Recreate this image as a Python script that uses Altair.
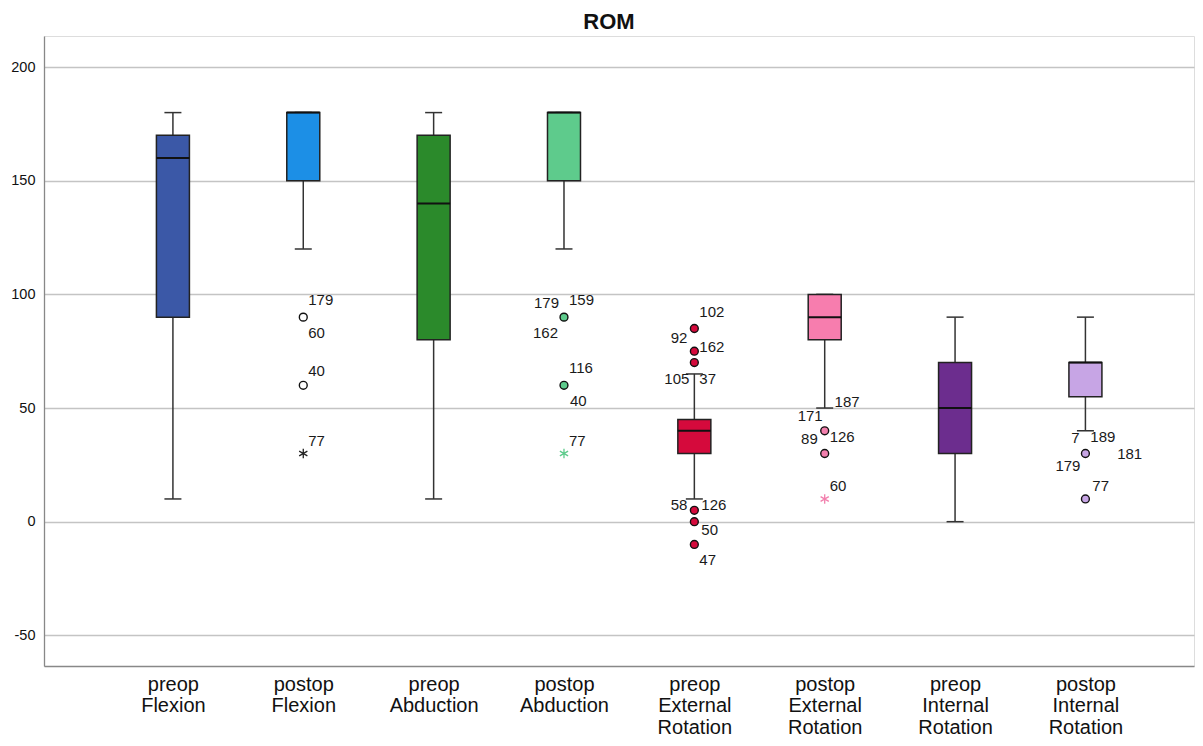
import json
import altair as alt
import pandas as pd

# ---------------- data ----------------
categories = [
    "preop\nFlexion", "postop\nFlexion", "preop\nAbduction", "postop\nAbduction",
    "preop\nExternal\nRotation", "postop\nExternal\nRotation",
    "preop\nInternal\nRotation", "postop\nInternal\nRotation",
]
whisker_low = [10, 120, 10, 120, 10, 50, 0, 40]
q1 = [90, 150, 80, 150, 30, 80, 30, 55]
median = [160, 180, 140, 180, 40, 90, 50, 70]
q3 = [170, 180, 170, 180, 45, 100, 70, 70]
whisker_high = [180, 180, 180, 180, 65, 100, 90, 90]

outlier_cat = [1, 1, 3, 3, 4, 4, 4, 4, 4, 4, 5, 5, 7, 7]
outlier_val = [90, 60, 90, 60, 85, 75, 70, 5, 0, -10, 40, 30, 30, 10]

extreme_cat = [1, 3, 5]
extreme_val = [30, 30, 10]

label_cat = [1, 1, 1, 1,
             3, 3, 3, 3, 3, 3,
             4, 4, 4, 4, 4, 4, 4, 4, 4,
             5, 5, 5, 5, 5,
             7, 7, 7, 7, 7]
label_val = [90, 90, 60, 30,
             90, 90, 90, 60, 60, 30,
             85, 75, 70, 70, 70, 5, 5, 0, -10,
             40, 40, 40, 40, 10,
             30, 30, 30, 30, 10]
label_text = ["179", "60", "40", "77",
              "179", "159", "162", "116", "40", "77",
              "102", "92", "162", "105", "37", "58", "126", "50", "47",
              "187", "171", "89", "126", "60",
              "7", "189", "181", "179", "77"]

# ---------------- styles ----------------
box_colors = ["#3B58A7", "#1C8FE6", "#2B8A2B", "#5ECB8C",
              "#D50A3C", "#F77DAE", "#6C2D8E", "#C7A5E5"]
outlier_fill = ["#3B58A7", "#FFFFFF", "#2B8A2B", "#5ECB8C",
                "#D50A3C", "#F27FAD", "#6C2D8E", "#C7A5E5"]
extreme_color = ["#222222", "#222222", "#2B8A2B", "#5ECB8C",
                 "#D50A3C", "#F27FAD", "#6C2D8E", "#C7A5E5"]
# label offsets in pixels relative to the point (dx, dy, align)
label_dx = [5, 5, 5, 5,
            -5, 5, -6, 5, 6, 5,
            5, -7, 5, -5, 5, -7, 7, 7, 5,
            10, -2, -7, 5, 5,
            -6, 5, 32, -5, 7]
label_dy = [-17, 16, -14, -13,
            -14, -17, 16, -17, 16, -13,
            -17, -13, -16, 16, 16, -5, -5, 8, 16,
            -29, -15, 8, 6, -13,
            -16, -17, 0, 12, -13]
label_align = ["left", "left", "left", "left",
               "right", "left", "right", "left", "left", "left",
               "left", "right", "left", "right", "left", "right", "left", "left", "left",
               "left", "right", "right", "left", "left",
               "right", "left", "left", "right", "left"]

W, H = 1150, 630
X_MIN, X_MAX = -0.9506, 7.7946
Y_MIN, Y_MAX = -63.5, 213.7
PX_X = W / (X_MAX - X_MIN)
PX_Y = H / (Y_MAX - Y_MIN)
FONT = "Liberation Sans"

box_df = pd.DataFrame({
    "idx": list(range(len(categories))),
    "wlo": whisker_low, "q1": q1, "med": median, "q3": q3, "whi": whisker_high,
    "fill": box_colors,
})
out_df = pd.DataFrame({
    "idx": outlier_cat, "val": outlier_val,
    "fill": [outlier_fill[i] for i in outlier_cat],
})
ext_df = pd.DataFrame({
    "idx": extreme_cat, "val": extreme_val,
    "stroke": [extreme_color[i] for i in extreme_cat],
})
lab_df = pd.DataFrame({
    "idx": label_cat, "val": label_val, "text": label_text,
    "dx": label_dx, "dy": label_dy, "align": label_align,
})

label_expr = "split(" + json.dumps(categories) + "[datum.value], '\\n')"

x_scale = alt.Scale(domain=[X_MIN, X_MAX], nice=False, zero=False)
y_scale = alt.Scale(domain=[Y_MIN, Y_MAX], nice=False, zero=False)
x_axis = alt.Axis(values=list(range(len(categories))), labelExpr=label_expr, title=None,
                  grid=False, ticks=False, domainColor="#888888", domainWidth=1.3,
                  labelFontSize=20, labelLineHeight=21.5, labelPadding=8, labelColor="#111111",
                  labelFont=FONT, labelFlush=False, labelOverlap=False, labelBound=False,
                  labelAngle=0, labelLimit=0)
y_axis = alt.Axis(values=[-50, 0, 50, 100, 150, 200], title=None, grid=True,
                  labelExpr="'' + datum.value",
                  gridColor="#C4C4C4", gridWidth=1.3, ticks=False, domainColor="#888888",
                  domainWidth=1.3, labelFontSize=14.5, labelPadding=9, labelColor="#111111",
                  labelFont=FONT)


def X(field):
    return alt.X(field, type="quantitative", scale=x_scale, axis=x_axis)


def Y(field):
    return alt.Y(field, type="quantitative", scale=y_scale, axis=y_axis)


base = alt.Chart(box_df)
wl = base.mark_rule(color="#333333", strokeWidth=1.5).encode(x=X("idx"), y=Y("wlo"), y2="q1")
wh = base.mark_rule(color="#333333", strokeWidth=1.5).encode(x=X("idx"), y=Y("q3"), y2="whi")
cap_l = base.mark_tick(orient="horizontal", size=17, thickness=1.5, color="#333333", opacity=1).encode(
    x=X("idx"), y=Y("wlo"))
cap_h = base.mark_tick(orient="horizontal", size=17, thickness=1.5, color="#333333", opacity=1).encode(
    x=X("idx"), y=Y("whi"))
boxes = base.mark_bar(size=33, stroke="#222222", strokeWidth=1.5, opacity=1).encode(
    x=X("idx"), y=Y("q1"), y2="q3", fill=alt.Fill("fill:N", scale=None))
meds = base.mark_tick(orient="horizontal", size=33, thickness=2, color="#111111", opacity=1).encode(
    x=X("idx"), y=Y("med"))

outs = alt.Chart(out_df).mark_point(shape="circle", filled=True, size=62, stroke="#111111",
                                    strokeWidth=1.4, opacity=1).encode(
    x=X("idx"), y=Y("val"), fill=alt.Fill("fill:N", scale=None))

asterisk = "M0,-1L0,1M-0.866,-0.5L0.866,0.5M-0.866,0.5L0.866,-0.5"
exts = alt.Chart(ext_df).mark_point(shape=asterisk, filled=False, size=90, strokeWidth=1.3,
                                    opacity=1).encode(
    x=X("idx"), y=Y("val"), stroke=alt.Stroke("stroke:N", scale=None))


def label_layer(al):
    return alt.Chart(lab_df).transform_filter(
        f"datum.align == '{al}'"
    ).transform_calculate(
        lx=f"datum.idx + datum.dx / {PX_X}",
        ly=f"datum.val - datum.dy / {PX_Y}",
    ).mark_text(align=al, baseline="middle", fontSize=15, font=FONT, color="#1A1A1A").encode(
        x=X("lx"), y=Y("ly"), text="text:N")


chart = alt.layer(
    wl, wh, cap_l, cap_h, boxes, meds, outs, exts, label_layer("left"), label_layer("right")
).properties(
    width=W, height=H,
    title=alt.TitleParams("ROM", fontSize=22, fontWeight="bold", font=FONT, color="#111111",
                          offset=2, anchor="middle", dx=-10),
    padding={"left": 36, "top": 28, "right": 1, "bottom": 72},
    autosize=alt.AutoSizeParams(type="none"),
).configure_view(stroke=None).configure(background="white")

chart.save("out.html", embed_options={"renderer": "svg", "actions": False})
